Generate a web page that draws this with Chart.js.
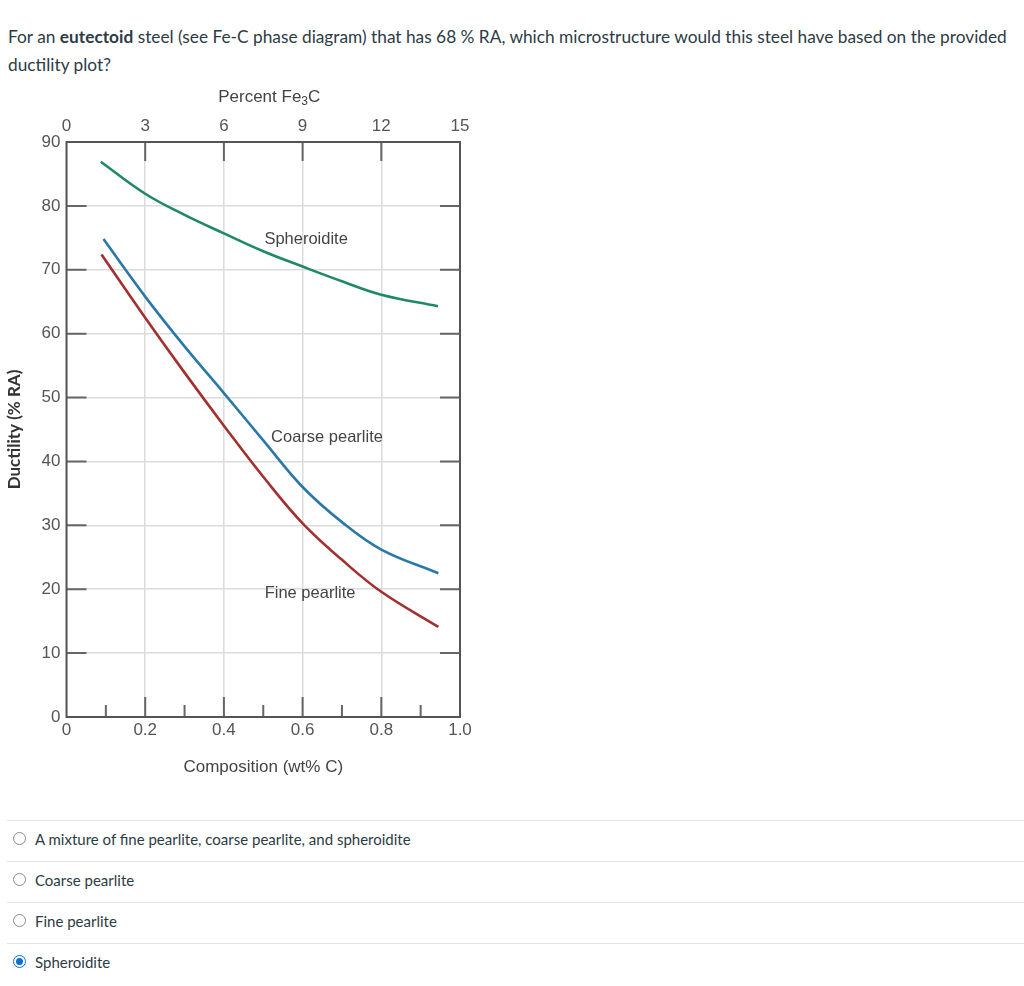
<!DOCTYPE html>
<html>
<head>
<meta charset="utf-8">
<script src="https://cdn.jsdelivr.net/npm/chart.js@4.4.1/dist/chart.umd.min.js"></script>
<style>
  body { margin: 0; background: #fff; font-family: Lato, 'Open Sans', sans-serif; color: #2d3b45; }
  .q { position: absolute; left: 8px; top: 23px; width: 1016px; font-size: 17.3px; line-height: 28px; white-space: nowrap; }
  .chart-box { position: absolute; left: 0; top: 85px; width: 480px; height: 700px; }
  .opt { position: absolute; left: 7px; right: 0; height: 41px; border-top: 1px solid #e3e3e3; font-size: 15px; }
  .opt span { position: absolute; left: 28px; top: 9px; }
  .radio { position: absolute; left: 6px; top: 11px; width: 11px; height: 11px; border: 1.5px solid #8a8a8a; border-radius: 50%; }
  .radio.on { border-color: #0a6fd3; }
  .radio.on::after { content: ''; position: absolute; left: 2px; top: 2px; width: 7px; height: 7px; border-radius: 50%; background: #0a6fd3; }
</style>
</head>
<body>
<div class="q">For an <b>eutectoid</b> steel (see Fe-C phase diagram) that has 68 % RA, which microstructure would this steel have based on the provided<br>ductility plot?</div>

<div class="chart-box"><canvas id="duct"></canvas></div>

<div class="opt" style="top:820px"><div class="radio"></div><span>A mixture of fine pearlite, coarse pearlite, and spheroidite</span></div>
<div class="opt" style="top:861px"><div class="radio"></div><span>Coarse pearlite</span></div>
<div class="opt" style="top:902px"><div class="radio"></div><span>Fine pearlite</span></div>
<div class="opt" style="top:943px"><div class="radio on"></div><span>Spheroidite</span></div>

<script>
// ── DATA ────────────────────────────────────────────────────────────
const spheroidX = [0.087, 0.2, 0.3, 0.4, 0.5, 0.6, 0.7, 0.8, 0.944];
const spheroidY = [86.9, 81.9, 78.6, 75.7, 72.9, 70.5, 68.2, 66.1, 64.3];

const coarseX = [0.094, 0.2, 0.3, 0.4, 0.5, 0.6, 0.7, 0.8, 0.945];
const coarseY = [74.8, 65.8, 58.0, 50.7, 43.3, 36.0, 30.5, 26.2, 22.5];

const fineX = [0.089, 0.2, 0.3, 0.4, 0.5, 0.6, 0.7, 0.8, 0.945];
const fineY = [72.4, 62.5, 53.9, 45.6, 37.6, 30.3, 24.6, 19.6, 14.1];

const wtTicks = [0, 0.2, 0.4, 0.6, 0.8, 1.0];
const fe3cTicks = [0, 3, 6, 9, 12, 15];

const curveLabels = [
  { text: 'Spheroidite', x: 0.609, y: 74.8 },
  { text: 'Coarse pearlite', x: 0.662, y: 43.8 },
  { text: 'Fine pearlite', x: 0.619, y: 19.4 }
];

const pts = (xs, ys) => xs.map((x, i) => ({ x, y: ys[i] }));

const FONT = "'Liberation Sans', Arial, sans-serif";
const tickFont = { family: FONT, size: 17 };
const tickColor = '#555';

// ── FRAME, INWARD TICKS, CURVE LABELS ───────────────────────────────
const framePlugin = {
  id: 'frame',
  afterDatasetsDraw(chart) {
    const { ctx, chartArea: a, scales } = chart;
    ctx.save();
    ctx.strokeStyle = '#666';
    ctx.lineWidth = 2;
    ctx.beginPath();
    // left / right ticks at every 10 % RA
    for (let v = 10; v <= 80; v += 10) {
      const y = scales.y.getPixelForValue(v);
      ctx.moveTo(a.left, y); ctx.lineTo(a.left + 20, y);
      ctx.moveTo(a.right, y); ctx.lineTo(a.right - 20, y);
    }
    // top ticks (Fe3C)
    fe3cTicks.slice(1, -1).forEach(v => {
      const x = scales.x2.getPixelForValue(v);
      ctx.moveTo(x, a.top); ctx.lineTo(x, a.top + 19);
    });
    // bottom ticks, major and minor
    for (let i = 1; i < 10; i++) {
      const x = scales.x.getPixelForValue(i / 10);
      ctx.moveTo(x, a.bottom); ctx.lineTo(x, a.bottom - (i % 2 ? 12 : 20));
    }
    ctx.stroke();
    ctx.strokeStyle = '#555';
    ctx.strokeRect(a.left, a.top, a.right - a.left, a.bottom - a.top);

    ctx.fillStyle = '#444';
    ctx.font = '16.5px ' + FONT;
    ctx.textAlign = 'center';
    ctx.textBaseline = 'middle';
    curveLabels.forEach(l => {
      ctx.fillText(l.text, scales.x.getPixelForValue(l.x), scales.y.getPixelForValue(l.y));
    });

    // top axis title with a real subscript
    const main = 'Percent Fe', sub = '3', tail = 'C';
    ctx.font = '17px ' + FONT;
    const wMain = ctx.measureText(main).width, wTail = ctx.measureText(tail).width;
    ctx.font = '12px ' + FONT;
    const wSub = ctx.measureText(sub).width;
    let x = (a.left + a.right) / 2 + 6 - (wMain + wSub + wTail) / 2;
    const y = 12;
    ctx.textAlign = 'left';
    ctx.font = '17px ' + FONT;
    ctx.fillText(main, x, y); x += wMain;
    ctx.font = '12px ' + FONT;
    ctx.fillText(sub, x, y + 5); x += wSub;
    ctx.font = '17px ' + FONT;
    ctx.fillText(tail, x, y);
    ctx.restore();
  }
};

const lineStyle = color => ({
  borderColor: color,
  borderWidth: 2.6,
  pointRadius: 0,
  fill: false,
  tension: 0.4
});

new Chart(document.getElementById('duct'), {
  type: 'line',
  data: {
    datasets: [
      { label: 'Spheroidite', data: pts(spheroidX, spheroidY), ...lineStyle('#1f8a62') },
      { label: 'Coarse pearlite', data: pts(coarseX, coarseY), ...lineStyle('#2b78a8') },
      { label: 'Fine pearlite', data: pts(fineX, fineY), ...lineStyle('#a3302f') }
    ]
  },
  options: {
    responsive: true,
    maintainAspectRatio: false,
    animation: false,
    layout: { padding: { left: 0, right: 20, top: 0, bottom: 0 } },
    plugins: { legend: { display: false }, tooltip: { enabled: false } },
    scales: {
      x: {
        type: 'linear', position: 'bottom', min: 0, max: 1,
        afterBuildTicks: s => { s.ticks = wtTicks.map(v => ({ value: v })); },
        afterFit: s => { s.height = 68; },
        grid: { color: '#dcdcdc', lineWidth: 1.5, drawTicks: false },
        border: { display: false },
        ticks: { color: tickColor, font: tickFont, padding: 3, maxRotation: 0,
                 callback: v => v === 0 ? '0' : v.toFixed(1) },
        title: { display: true, text: 'Composition (wt% C)', color: '#444',
                 font: { family: FONT, size: 17 },
                 padding: { top: 4, bottom: 7 } }
      },
      x2: {
        type: 'linear', position: 'top', min: 0, max: 15,
        afterBuildTicks: s => { s.ticks = fe3cTicks.map(v => ({ value: v })); },
        afterFit: s => { s.height = 57; },
        grid: { display: false, drawTicks: false },
        border: { display: false },
        ticks: { color: tickColor, font: tickFont, padding: 5, maxRotation: 0 }
      },
      y: {
        type: 'linear', position: 'left', min: 0, max: 90,
        ticks: { stepSize: 10, color: tickColor, font: tickFont, padding: 6 },
        afterFit: s => { s.width = 66.5; },
        grid: { color: '#dcdcdc', lineWidth: 1.5, drawTicks: false },
        border: { display: false },
        title: { display: true, text: 'Ductility (% RA)', color: '#333',
                 font: { family: "Lato, 'Open Sans', sans-serif", size: 17, weight: 'bold' },
                 padding: { top: 4, bottom: 0 } }
      }
    }
  },
  plugins: [framePlugin]
});
</script>
</body>
</html>
